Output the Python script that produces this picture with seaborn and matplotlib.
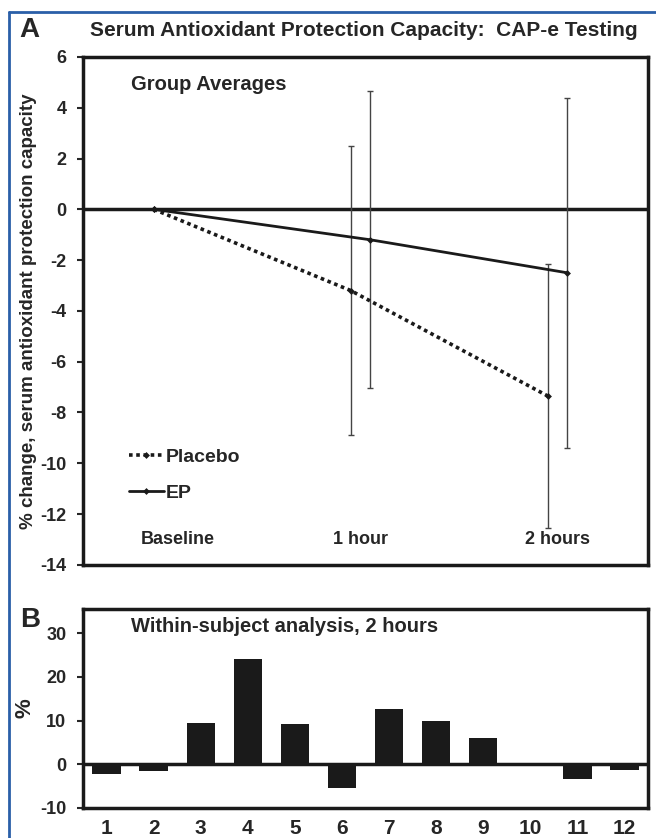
import numpy as np
import pandas as pd
import matplotlib.pyplot as plt
import seaborn as sns

# panel A data
timepoints = ['Baseline', '1 hour', '2 hours']
placebo_mean = [0, -3.2, -7.35]
placebo_sd = [0, 5.7, 5.2]
ep_mean = [0, -1.2, -2.5]
ep_sd = [0, 5.85, 6.9]

# panel B data
subjects = [str(i) for i in range(1, 13)]
within_pct = [-2.3, -1.6, 9.4, 24.0, 9.2, -5.5, 12.6, 10.0, 5.9, -0.5, -3.4, -1.4]

sns.set_style('white')
plt.rcParams['font.family'] = ['Liberation Sans', 'DejaVu Sans']
plt.rcParams['font.weight'] = 'bold'
plt.rcParams['axes.unicode_minus'] = False

fig = plt.figure(figsize=(6.56, 8.38), dpi=100)
axA = fig.add_axes([0.1265, 0.326, 0.8615, 0.606])
axB = fig.add_axes([0.1265, 0.036, 0.8615, 0.237])

# ---- panel A
off = {'Placebo': -0.05, 'EP': 0.05}
rows = []
for grp, m, s in [('Placebo', placebo_mean, placebo_sd), ('EP', ep_mean, ep_sd)]:
    for i, (mv, sv) in enumerate(zip(m, s)):
        x = i + off['Placebo'] if i == 0 else i + off[grp]
        rows.append({'group': grp, 'x': x, 'y': mv, 'sd': sv})
df = pd.DataFrame(rows)

for grp, ls, lw in [('Placebo', (0, (1, 1)), 2.6), ('EP', '-', 2.0)]:
    d = df[df.group == grp]
    sns.lineplot(data=d, x='x', y='y', ax=axA, color='#1a1a1a', lw=lw, linestyle=ls,
                 marker='D', markersize=3.5, markeredgewidth=0, label=grp, zorder=4)
    e = d[d.sd > 0]
    axA.errorbar(e.x, e.y, yerr=e.sd, fmt='none', ecolor='#444444', elinewidth=1.0,
                 capsize=2.5, capthick=1.0, zorder=3)

axA.axhline(0, color='#1a1a1a', lw=2.5, zorder=2)
axA.set_xlim(-0.41, 2.46)
axA.set_ylim(-14, 6)
axA.set_yticks(np.arange(-14, 7, 2))
axA.set_xticks([])
axA.set_xlabel('')
axA.set_ylabel('% change, serum antioxidant protection capacity', fontsize=13.5, fontweight='bold', labelpad=2)
for i, t in enumerate(timepoints):
    axA.text(i + (0.07 if i == 0 else 0), -13, t, ha='center', va='center', fontsize=13, fontweight='bold')
axA.text(0.085, 0.965, 'Group Averages', transform=axA.transAxes, ha='left', va='top',
         fontsize=14.5, fontweight='bold')
leg = axA.legend(loc='lower left', bbox_to_anchor=(0.05, 0.09), frameon=False, fontsize=14,
                 handlelength=1.8, handletextpad=0.1, labelspacing=0.95)

# ---- panel B
sns.barplot(x=subjects, y=within_pct, ax=axB, color='#1a1a1a', width=0.6, saturation=1,
            linewidth=0, zorder=3)
axB.axhline(0, color='#1a1a1a', lw=2.5, zorder=2)
axB.set_ylim(-10, 35.5)
axB.set_yticks([-10, 0, 10, 20, 30])
axB.set_ylabel('%', fontsize=16, fontweight='bold', labelpad=3)
axB.text(0.085, 0.96, 'Within-subject analysis, 2 hours', transform=axB.transAxes, ha='left', va='top',
         fontsize=14.5, fontweight='bold')

for ax in (axA, axB):
    for sp in ax.spines.values():
        sp.set_visible(True)
        sp.set_linewidth(2.5)
        sp.set_color('#1a1a1a')
    ax.tick_params(axis='y', which='both', left=True, length=4, width=1.5, labelsize=13, pad=8)
axB.tick_params(axis='x', length=0, labelsize=15, pad=8)
for lbl in axA.get_yticklabels() + axB.get_yticklabels() + axB.get_xticklabels():
    lbl.set_fontweight('bold')

fig.text(0.03, 0.964, 'A', fontsize=20, fontweight='bold', ha='left', va='center')
fig.text(0.03, 0.26, 'B', fontsize=20, fontweight='bold', ha='left', va='center')
fig.text(0.555, 0.964, 'Serum Antioxidant Protection Capacity:  CAP-e Testing', fontsize=15,
         fontweight='bold', ha='center', va='center')

# scan border
fig.add_artist(plt.Line2D([0.014, 0.014], [0.0, 0.986], color='#2a5fa8', lw=2))
fig.add_artist(plt.Line2D([0.014, 1.0], [0.986, 0.986], color='#2a5fa8', lw=2))

fig.savefig('out.png', dpi=100)
